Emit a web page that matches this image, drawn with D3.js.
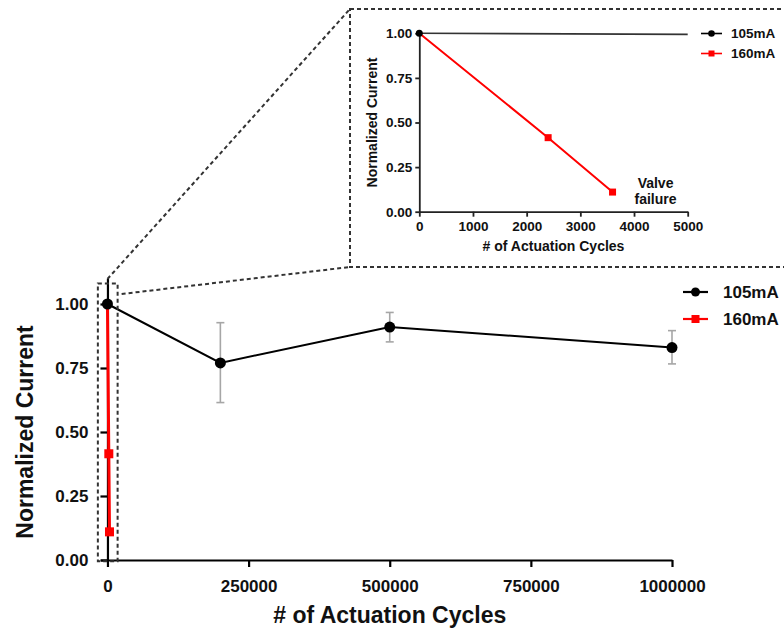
<!DOCTYPE html>
<html>
<head>
<meta charset="utf-8">
<script src="https://cdn.jsdelivr.net/npm/d3@7"></script>
<style>
  body { margin: 0; background: #fff; }
  svg { display: block; font-family: "Liberation Sans", Arial, sans-serif; font-weight: bold; }
</style>
</head>
<body>
<svg id="chart" width="784" height="632"></svg>
<script>
// data
var series = ["105mA", "160mA"];
var colors = ["#000000", "#ff0000"];
var cycles105 = [0, 200000, 500000, 1000000];
var current105 = [1.00, 0.77, 0.91, 0.83];
var errLow105 = [1.00, 0.615, 0.852, 0.766];
var errHigh105 = [1.00, 0.927, 0.967, 0.896];
var cycles160 = [0, 2400, 3600];
var current160 = [1.00, 0.415, 0.11];
var yTicks = [0, 0.25, 0.5, 0.75, 1.0];
var xTicksMain = [0, 250000, 500000, 750000, 1000000];
var xTicksInset = [0, 1000, 2000, 3000, 4000, 5000];

var pts105 = cycles105.map(function(c, i) {
  return {x: c, y: current105[i], lo: errLow105[i], hi: errHigh105[i]};
});
var pts160 = cycles160.map(function(c, i) { return {x: c, y: current160[i]}; });

var svg = d3.select("#chart");

// ---------- main chart ----------
var x = d3.scaleLinear().domain([-12500, 1000000]).range([100.4, 672]);
var y = d3.scaleLinear().domain([0, 1.1]).range([560, 278.4]);

var main = svg.append("g");

var yAxis = main.append("g")
  .attr("transform", "translate(" + x(0) + ",0)")
  .call(d3.axisLeft(y).tickValues(yTicks).tickFormat(d3.format(".2f"))
    .tickSize(7).tickPadding(12).tickSizeOuter(0));
var xAxis = main.append("g")
  .attr("transform", "translate(0," + y(0) + ")")
  .call(d3.axisBottom(x).tickValues(xTicksMain).tickFormat(d3.format("d"))
    .tickSize(7).tickPadding(13).tickSizeOuter(0));
[yAxis, xAxis].forEach(function(a) {
  a.selectAll("path, line").attr("stroke", "#000").attr("stroke-width", 2.2);
  a.selectAll("text").attr("fill", "#111").style("font-size", "17px").style("font-weight", "bold")
    .style("font-family", "'Liberation Sans', Arial, sans-serif");
});

main.append("text")
  .attr("transform", "translate(33," + y(0.5) + ") rotate(-90)")
  .attr("text-anchor", "middle")
  .style("font-size", "23px").attr("fill", "#111")
  .text("Normalized Current");
main.append("text")
  .attr("x", (x(0) + x(1000000)) / 2).attr("y", 623)
  .attr("text-anchor", "middle")
  .style("font-size", "23px").attr("fill", "#111")
  .text("# of Actuation Cycles");

// error bars
var eb = main.append("g").attr("stroke", "#a6a6a6").attr("stroke-width", 1.6);
pts105.filter(function(d) { return d.hi > d.lo; }).forEach(function(d) {
  eb.append("line").attr("x1", x(d.x)).attr("x2", x(d.x)).attr("y1", y(d.lo)).attr("y2", y(d.hi));
  eb.append("line").attr("x1", x(d.x) - 4).attr("x2", x(d.x) + 4).attr("y1", y(d.lo)).attr("y2", y(d.lo));
  eb.append("line").attr("x1", x(d.x) - 4).attr("x2", x(d.x) + 4).attr("y1", y(d.hi)).attr("y2", y(d.hi));
});

var lineMain = d3.line().x(function(d) { return x(d.x); }).y(function(d) { return y(d.y); });

main.append("path").datum(pts160).attr("d", lineMain)
  .attr("fill", "none").attr("stroke", colors[1]).attr("stroke-width", 3);
main.selectAll("rect.p160").data(pts160.slice(1)).enter().append("rect")
  .attr("x", function(d) { return x(d.x) - 4.5; }).attr("y", function(d) { return y(d.y) - 4.5; })
  .attr("width", 9).attr("height", 9).attr("fill", colors[1]);

main.append("path").datum(pts105).attr("d", lineMain)
  .attr("fill", "none").attr("stroke", colors[0]).attr("stroke-width", 2);
main.selectAll("circle.p105").data(pts105).enter().append("circle")
  .attr("cx", function(d) { return x(d.x); }).attr("cy", function(d) { return y(d.y); })
  .attr("r", 5.5).attr("fill", colors[0]);

// legend
var leg = main.append("g");
series.forEach(function(s, i) {
  var ly = 292 + i * 27;
  leg.append("line").attr("x1", 683).attr("x2", 708).attr("y1", ly).attr("y2", ly)
    .attr("stroke", colors[i]).attr("stroke-width", 2.2);
  if (i === 0) leg.append("circle").attr("cx", 695.5).attr("cy", ly).attr("r", 4.5).attr("fill", colors[i]);
  else leg.append("rect").attr("x", 691.5).attr("y", ly - 4).attr("width", 8).attr("height", 8).attr("fill", colors[i]);
  leg.append("text").attr("x", 723).attr("y", ly).attr("dy", "0.36em")
    .style("font-size", "17px").attr("fill", "#111").text(s);
});

// ---------- zoom annotation ----------
var dash = svg.append("g").attr("fill", "none").attr("stroke", "#333")
  .attr("stroke-width", 2).attr("stroke-dasharray", "4,3");
var bx0 = x(-17000), bx1 = x(18000), by0 = y(-0.005), by1 = y(1.08);
dash.append("rect").attr("x", bx0).attr("y", by1).attr("width", bx1 - bx0).attr("height", by0 - by1);
dash.append("rect").attr("x", 350).attr("y", 9).attr("width", 450).attr("height", 258);
dash.append("line").attr("x1", x(0)).attr("y1", 279).attr("x2", 350).attr("y2", 9);
dash.append("line").attr("x1", bx1 + 4).attr("y1", 294).attr("x2", 350).attr("y2", 267);

// ---------- inset ----------
var xi = d3.scaleLinear().domain([0, 5000]).range([419.3, 687.7]);
var yi = d3.scaleLinear().domain([0, 1]).range([211.7, 33.3]);
var inset = svg.append("g");

inset.append("clipPath").attr("id", "clipInset").append("rect")
  .attr("x", xi(0)).attr("y", 20).attr("width", xi(5000) - xi(0)).attr("height", 200);

var iyAxis = inset.append("g").attr("transform", "translate(" + xi(0) + ",0)")
  .call(d3.axisLeft(yi).tickValues(yTicks).tickFormat(d3.format(".2f"))
    .tickSize(4).tickPadding(3).tickSizeOuter(0));
var ixAxis = inset.append("g").attr("transform", "translate(0," + yi(0) + ")")
  .call(d3.axisBottom(xi).tickValues(xTicksInset).tickFormat(d3.format("d"))
    .tickSize(5).tickPadding(5).tickSizeOuter(0));
[iyAxis, ixAxis].forEach(function(a) {
  a.selectAll("path, line").attr("stroke", "#222").attr("stroke-width", 1.8);
  a.selectAll("text").attr("fill", "#111").style("font-size", "13.5px").style("font-weight", "bold")
    .style("font-family", "'Liberation Sans', Arial, sans-serif");
});

inset.append("text")
  .attr("transform", "translate(377," + yi(0.5) + ") rotate(-90)")
  .attr("text-anchor", "middle").style("font-size", "14px").attr("fill", "#111")
  .text("Normalized Current");
inset.append("text")
  .attr("x", (xi(0) + xi(5000)) / 2).attr("y", 251)
  .attr("text-anchor", "middle").style("font-size", "14px").attr("fill", "#111")
  .text("# of Actuation Cycles");

var lineInset = d3.line().x(function(d) { return xi(d.x); }).y(function(d) { return yi(d.y); });

inset.append("path").datum(pts160).attr("d", lineInset).attr("clip-path", "url(#clipInset)")
  .attr("fill", "none").attr("stroke", colors[1]).attr("stroke-width", 2);
inset.selectAll("rect.i160").data(pts160.slice(1)).enter().append("rect")
  .attr("x", function(d) { return xi(d.x) - 3.5; }).attr("y", function(d) { return yi(d.y) - 3.5; })
  .attr("width", 7).attr("height", 7).attr("fill", colors[1]);
inset.append("path").datum(pts105).attr("d", lineInset).attr("clip-path", "url(#clipInset)")
  .attr("fill", "none").attr("stroke", "#333").attr("stroke-width", 1.6);
inset.selectAll("circle.i105").data(pts105.filter(function(d) { return d.x <= 5000; })).enter().append("circle")
  .attr("cx", function(d) { return xi(d.x); }).attr("cy", function(d) { return yi(d.y); })
  .attr("r", 3.5).attr("fill", colors[0]);

var last = pts160[pts160.length - 1];
var note = inset.append("text").attr("text-anchor", "middle").style("font-size", "14px").attr("fill", "#111");
note.append("tspan").attr("x", xi(last.x) + 43).attr("y", 188).text("Valve");
note.append("tspan").attr("x", xi(last.x) + 43).attr("y", 204).text("failure");

var ileg = inset.append("g");
series.forEach(function(s, i) {
  var ly = 33.5 + i * 20;
  ileg.append("line").attr("x1", 701).attr("x2", 722).attr("y1", ly).attr("y2", ly)
    .attr("stroke", colors[i]).attr("stroke-width", 1.6);
  if (i === 0) ileg.append("circle").attr("cx", 711.5).attr("cy", ly).attr("r", 3.3).attr("fill", colors[i]);
  else ileg.append("rect").attr("x", 708.5).attr("y", ly - 3).attr("width", 6).attr("height", 6).attr("fill", colors[i]);
  ileg.append("text").attr("x", 731).attr("y", ly).attr("dy", "0.36em")
    .style("font-size", "13.5px").attr("fill", "#111").text(s);
});
</script>
</body>
</html>
